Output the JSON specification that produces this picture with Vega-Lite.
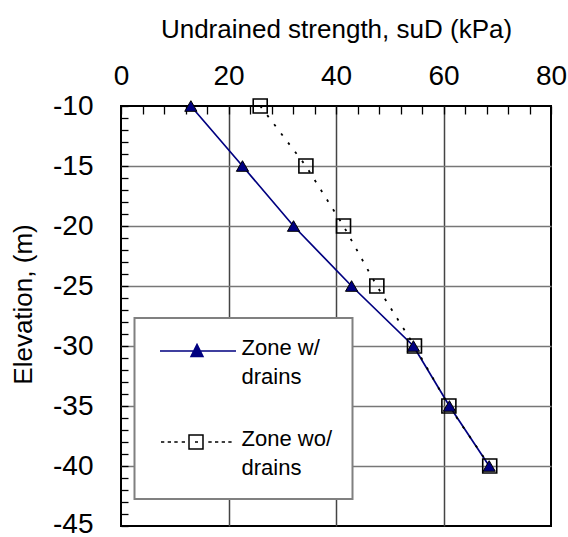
{
  "$schema": "https://vega.github.io/schema/vega-lite/v6.json",
  "width": 430,
  "height": 420,
  "autosize": {"type": "none"},
  "padding": {"left": 121, "top": 106, "right": 17, "bottom": 11},
  "config": {
    "view": {"stroke": "black", "strokeWidth": 2},
    "font": "Liberation Sans",
    "text": {"font": "Liberation Sans"},
    "legend": {"strokeWidth": 2}
  },
  "data": {
    "values": [
      {"series": "Zone w/ drains", "s": 13.0, "elev": -10},
      {"series": "Zone w/ drains", "s": 22.6, "elev": -15},
      {"series": "Zone w/ drains", "s": 32.1, "elev": -20},
      {"series": "Zone w/ drains", "s": 42.9, "elev": -25},
      {"series": "Zone w/ drains", "s": 54.4, "elev": -30},
      {"series": "Zone w/ drains", "s": 61.1, "elev": -35},
      {"series": "Zone w/ drains", "s": 68.5, "elev": -40},
      {"series": "Zone wo/ drains", "s": 25.9, "elev": -10},
      {"series": "Zone wo/ drains", "s": 34.4, "elev": -15},
      {"series": "Zone wo/ drains", "s": 41.4, "elev": -20},
      {"series": "Zone wo/ drains", "s": 47.6, "elev": -25},
      {"series": "Zone wo/ drains", "s": 54.6, "elev": -30},
      {"series": "Zone wo/ drains", "s": 61.0, "elev": -35},
      {"series": "Zone wo/ drains", "s": 68.6, "elev": -40}
    ]
  },
  "encoding": {
    "x": {
      "field": "s",
      "type": "quantitative",
      "scale": {"domain": [0, 80], "nice": false, "zero": false},
      "axis": {
        "orient": "top",
        "title": "Undrained strength, suD (kPa)",
        "titleFont": "Liberation Sans",
        "titleFontSize": 26,
        "titleFontWeight": "normal",
        "titleColor": "black",
        "titlePadding": 20,
        "values": [0, 4, 8, 12, 16, 20, 24, 28, 32, 36, 40, 44, 48, 52, 56, 60, 64, 68, 72, 76, 80],
        "labelExpr": "datum.value % 20 === 0 ? '' + datum.value : ''",
        "labelFont": "Liberation Sans",
        "labelFontSize": 28,
        "labelColor": "black",
        "labelPadding": 24,
        "labelFlush": false,
        "labelOverlap": false,
        "labelBound": false,
        "tickSize": -8,
        "tickColor": "black",
        "tickWidth": 1.3,
        "domain": false,
        "grid": true,
        "gridColor": "#444444",
        "gridWidth": 1.5,
        "gridOpacity": {"condition": {"test": "datum.value % 20 === 0 && datum.value > 0 && datum.value < 80", "value": 1}, "value": 0}
      }
    },
    "y": {
      "field": "elev",
      "type": "quantitative",
      "scale": {"domain": [-45, -10], "nice": false, "zero": false},
      "axis": {
        "orient": "left",
        "title": "Elevation, (m)",
        "titleFont": "Liberation Sans",
        "titleFontSize": 26,
        "titleFontWeight": "normal",
        "titleColor": "black",
        "titlePadding": 16,
        "titleY": 198,
        "values": [-45, -44, -43, -42, -41, -40, -39, -38, -37, -36, -35, -34, -33, -32, -31, -30, -29, -28, -27, -26, -25, -24, -23, -22, -21, -20, -19, -18, -17, -16, -15, -14, -13, -12, -11, -10],
        "labelExpr": "datum.value % 5 === 0 ? '' + datum.value : ''",
        "labelFont": "Liberation Sans",
        "labelFontSize": 28,
        "labelColor": "black",
        "labelPadding": 35,
        "labelOffset": {"condition": {"test": "datum.value === -45", "value": -2}, "value": 0},
        "labelOverlap": false,
        "labelBound": false,
        "labelFlush": false,
        "tickSize": -7,
        "tickColor": "black",
        "tickWidth": 1.3,
        "domain": false,
        "grid": true,
        "gridColor": "#777777",
        "gridWidth": 1.5,
        "gridOpacity": {"condition": {"test": "datum.value % 5 === 0 && datum.value > -45 && datum.value < -10", "value": 1}, "value": 0}
      }
    }
  },
  "layer": [
    {
      "transform": [{"filter": "datum.series === 'Zone w/ drains'"}],
      "mark": {"type": "line", "strokeWidth": 1.7, "strokeCap": "butt"},
      "encoding": {
        "color": {
          "field": "series",
          "type": "nominal",
          "scale": {"domain": ["Zone w/ drains", "Zone wo/ drains"], "range": ["#000080", "#000000"]},
          "legend": {
            "orient": "none",
            "legendX": 13.5,
            "legendY": 212,
            "title": null,
            "padding": 20,
            "strokeColor": "#808080",
            "fillColor": "white",
            "symbolSize": 576,
            "symbolStrokeWidth": 1.5,
            "symbolOffset": 0,
            "labelOffset": 61,
            "labelFont": "Liberation Sans",
            "labelFontSize": 22,
            "labelColor": "black",
            "labelBaseline": "alphabetic",
            "labelLimit": 0,
            "rowPadding": 40,
            "labelExpr": "datum.value === 'Zone w/ drains' ? ['Zone w/', 'drains'] : ['Zone wo/', 'drains']",
            "encode": {
              "symbols": {
                "update": {
                  "shape": {"signal": "datum.value === 'Zone w/ drains' ? 'M-0.625,0L5.708,0M2.458,-0.55L2.958,0.45L1.958,0.45Z' : 'M-0.542,0L-0.267,0M0.017,0L0.292,0M0.567,0L0.85,0M1.183,0L1.458,0M2.292,0L2.542,0M3.4,0L3.683,0M3.958,0L4.233,0M4.517,0L4.792,0M5.067,0L5.342,0M1.792,-0.583L2.958,-0.583L2.958,0.583L1.792,0.583Z'"},
                  "fill": {"signal": "datum.value === 'Zone w/ drains' ? '#000080' : 'transparent'"},
                  "stroke": {"signal": "datum.value === 'Zone w/ drains' ? '#000080' : '#000000'"},
                  "strokeWidth": {"value": 1.5},
                  "size": {"value": 576},
                  "opacity": {"value": 1}
                }
              },
              "labels": {
                "update": {
                  "dy": {"value": 4},
                  "lineHeight": {"value": 29}
                }
              }
            }
          }
        }
      }
    },
    {
      "transform": [{"filter": "datum.series === 'Zone wo/ drains'"}],
      "mark": {"type": "line", "strokeWidth": 1.8, "strokeCap": "butt", "color": "#000000", "strokeDash": [2.5, 9]}
    },
    {
      "transform": [{"filter": "datum.series === 'Zone w/ drains'"}],
      "mark": {"type": "point", "shape": "triangle-up", "size": 150, "filled": true, "fill": "#000080", "stroke": "black", "strokeWidth": 1, "opacity": 1}
    },
    {
      "transform": [{"filter": "datum.series === 'Zone wo/ drains'"}],
      "mark": {"type": "point", "shape": "square", "size": 196, "filled": false, "fill": "transparent", "stroke": "black", "strokeWidth": 1.6, "opacity": 1}
    }
  ]
}
